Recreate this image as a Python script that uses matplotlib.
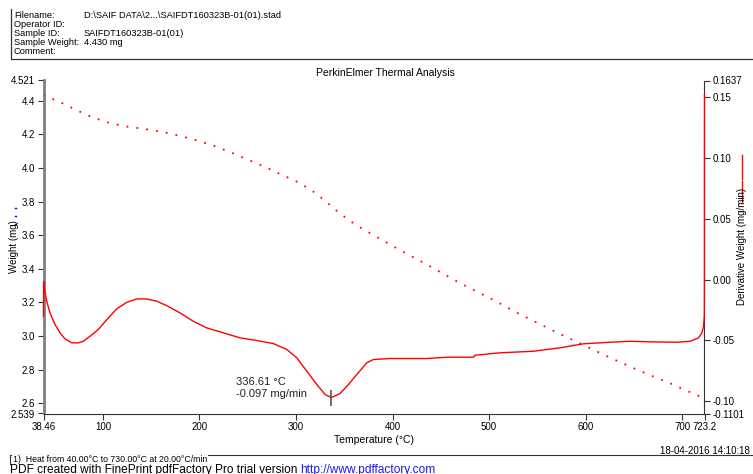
import numpy as np
import matplotlib
matplotlib.use("Agg")
from matplotlib import pyplot as plt
from matplotlib.lines import Line2D

plt.rcParams['font.family'] = ['Liberation Sans', 'DejaVu Sans']

# weight curve (TG), mg
temp_w = [38.46, 39.0, 55.9, 72.1, 88.7, 105.3, 124.3, 143.0, 162.3, 180.9, 198.6,
          215.9, 233.1, 250.4, 267.0, 283.2, 299.1, 314.6, 328.8, 341.3, 355.4,
          370.6, 407.2, 438.3, 469.5, 504.6, 528.8, 553.7, 573.7, 589.6, 614.4,
          631.0, 652.5, 669.0, 686.3, 703.0, 719.1]
weight = [4.436, 4.432, 4.392, 4.346, 4.303, 4.271, 4.247, 4.233, 4.214, 4.190, 4.162,
          4.130, 4.092, 4.049, 4.009, 3.965, 3.925, 3.874, 3.812, 3.749, 3.687,
          3.632, 3.513, 3.417, 3.316, 3.215, 3.139, 3.068, 3.012, 2.969, 2.901,
          2.857, 2.802, 2.762, 2.722, 2.679, 2.639]

# derivative curve (DTG), mg/min
temp_d = [38.46, 38.6, 39.5, 41.8, 45.2, 50.4, 55.6, 60.7, 67.7, 74.5, 79.7, 86.6,
          95.2, 104.0, 114.3, 124.7, 135.0, 145.4, 155.8, 166.1, 179.9, 193.7,
          207.6, 224.8, 242.1, 259.4, 276.6, 290.5, 300.8, 311.2, 321.6, 330.2,
          336.6, 345.7, 354.3, 363.0, 373.4, 380.2, 397.5, 418.3, 435.6, 456.3,
          483.8, 485.6, 511.5, 546.0, 573.7, 597.8, 625.5, 646.2, 666.9, 694.6,
          708.4, 717.0, 720.5, 722.2, 723.0, 723.1, 723.2]
deriv = [-0.030, -0.0015, -0.008, -0.0178, -0.0274, -0.0370, -0.0438, -0.0487,
         -0.0520, -0.0520, -0.0507, -0.0466, -0.0411, -0.0329, -0.0241, -0.0187,
         -0.0159, -0.0159, -0.0178, -0.0214, -0.0274, -0.0343, -0.0397, -0.0438,
         -0.0479, -0.0501, -0.0526, -0.0575, -0.0643, -0.0753, -0.0863, -0.0945,
         -0.0970, -0.0937, -0.0863, -0.0781, -0.0684, -0.0657, -0.0649, -0.0649,
         -0.0649, -0.0638, -0.0638, -0.0622, -0.0602, -0.0589, -0.0561, -0.0528,
         -0.0515, -0.0507, -0.0512, -0.0515, -0.0507, -0.0479, -0.0438, -0.0384,
         -0.030, -0.010, 0.152]

peak_t, peak_d = 336.61, -0.097

x_ticks = [38.46, 100, 200, 300, 400, 500, 600, 700, 723.2]
x_labels = ['38.46', '100', '200', '300', '400', '500', '600', '700', '723.2']
yl_ticks = [2.539, 2.6, 2.8, 3.0, 3.2, 3.4, 3.6, 3.8, 4.0, 4.2, 4.4, 4.521]
yl_labels = ['2.539', '2.6', '2.8', '3.0', '3.2', '3.4', '3.6', '3.8', '4.0', '4.2', '4.4', '4.521']
yr_ticks = [-0.1101, -0.10, -0.05, 0.00, 0.05, 0.10, 0.15, 0.1637]
yr_labels = ['-0.1101', '-0.10', '-0.05', '0.00', '0.05', '0.10', '0.15', '0.1637']

W, H = 753, 474
fig = plt.figure(figsize=(W / 100, H / 100), dpi=100)
ax = fig.add_axes([43.5 / W, 1 - 413.5 / H, 661 / W, 333 / H])
ax2 = ax.twinx()

ax.plot(temp_w, weight, color='red', lw=1.3, linestyle=(0, (1, 4.5)), zorder=3)
ax2.plot(temp_d, deriv, color='red', lw=1.0, zorder=5, clip_on=False)
ax2.plot(peak_t, peak_d, marker='|', color='#555555', ms=11, mew=1.2, zorder=6)
ax2.text(238, -0.0978, '336.61 °C\n-0.097 mg/min', fontsize=8, color='#222222',
         ha='left', va='bottom', linespacing=1.15)

ax.set_xlim(38.46, 723.2)
ax.set_ylim(2.539, 4.521)
ax2.set_ylim(-0.1101, 0.1637)

ax.set_xticks(x_ticks)
ax.set_xticklabels(x_labels)
ax.set_yticks(yl_ticks)
ax.set_yticklabels(yl_labels)
ax2.set_yticks(yr_ticks)
ax2.set_yticklabels(yr_labels)

for a in (ax, ax2):
    a.tick_params(labelsize=7, length=4, width=0.8, color='#333333', pad=2)
    a.spines['top'].set_visible(False)
    a.set_facecolor('none')
ax2.spines['left'].set_visible(False)
ax2.spines['bottom'].set_visible(False)
ax.spines['right'].set_visible(False)
ax.spines['left'].set_color('#808080')
ax.spines['left'].set_linewidth(2)
ax2.spines['right'].set_color('#333333')
ax2.spines['right'].set_zorder(2)
ax.spines['bottom'].set_color('#333333')

ax.set_xlabel('Temperature (°C)', fontsize=7.5, labelpad=2)
fig.text(14 / W, 1 - 247 / H, 'Weight (mg)', rotation=90, fontsize=7,
         ha='center', va='center')
fig.text(742 / W, 1 - 246 / H, 'Derivative Weight (mg/min)', rotation=90,
         fontsize=7, ha='center', va='center')
fig.text(385 / W, 1 - 73 / H, 'PerkinElmer Thermal Analysis', fontsize=7.5,
         ha='center', va='center')

def px(x, y):
    return x / W, 1 - y / H

def fig_line(xs, ys, **kw):
    fx = [x / W for x in xs]
    fy = [1 - y / H for y in ys]
    fig.add_artist(Line2D(fx, fy, transform=fig.transFigure, **kw))

# header block
fig_line([11, 11, W], [9, 58.5, 58.5], color='#333333', lw=0.9)
header = [('Filename:', 'D:\\SAIF DATA\\2...\\SAIFDT160323B-01(01).stad', 15.7),
          ('Operator ID:', '', 24.3),
          ('Sample ID:', 'SAIFDT160323B-01(01)', 33.3),
          ('Sample Weight:', '4.430 mg', 42.3),
          ('Comment:', '', 51)]
for lab, val, y in header:
    fig.text(*px(14, y), lab, fontsize=6.7, va='center', ha='left')
    if val:
        fig.text(*px(84, y), val, fontsize=6.7, va='center', ha='left')

# legend marks at the sides
for yy in (208, 215.7, 223.5):
    fig_line([15, 15.6], [yy, yy], color='blue', lw=1.0)
fig_line([742, 742], [155, 179], color='red', lw=1)
fig_line([742, 742], [181, 202], color='red', lw=1)

# footer
fig.text(*px(750, 451), '18-04-2016 14:10:18', fontsize=7, ha='right', va='center')
fig_line([10, W], [455, 455], color='#333333', lw=0.8)
fig_line([10, 10], [455, 464], color='#333333', lw=0.8)
fig.text(*px(13, 460), '1)  Heat from 40.00°C to 730.00°C at 20.00°C/min', fontsize=6.3,
         ha='left', va='center',
         bbox=dict(facecolor='white', edgecolor='none', pad=0.6))
fig.text(*px(10, 469.5), 'PDF created with FinePrint pdfFactory Pro trial version ',
         fontsize=8.6, ha='left', va='center')
fig.text(*px(300, 469.5), 'http://www.pdffactory.com', fontsize=8.6, color='#1a1aee',
         ha='left', va='center')

fig.savefig('out.png', dpi=100)
